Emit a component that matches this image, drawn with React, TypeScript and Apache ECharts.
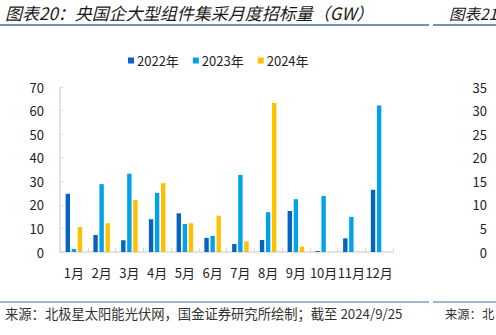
import React, { useEffect, useRef } from "react";
import * as echarts from "echarts";

const categories = ["1月", "2月", "3月", "4月", "5月", "6月", "7月", "8月", "9月", "10月", "11月", "12月"];
const seriesNames = ["2022年", "2023年", "2024年"];
const values2022 = [24.7, 7.2, 5.0, 13.9, 16.4, 6.0, 3.4, 5.1, 17.4, 0.4, 5.8, 26.4];
const values2023 = [1.3, 28.8, 33.2, 25.1, 11.9, 6.8, 32.7, 16.9, 22.4, 23.8, 14.9, 62.1];
const values2024 = [10.6, 12.2, 22.0, 29.2, 12.2, 15.4, 4.5, 63.2, 2.3, null, null, null];
const colors = ["#0563C1", "#00A2E8", "#FFC000"];

const titleText = "图表20：央国企大型组件集采月度招标量（GW）";
const rightTitleText = "图表21";
const sourceText = "来源：北极星太阳能光伏网，国金证券研究所绘制；截至 2024/9/25";
const rightSourceText = "来源：北";

const FONT = "'Noto Sans CJK SC', 'Noto Sans', sans-serif";

export default function App() {
  const ref = useRef<HTMLDivElement>(null);
  useEffect(() => {
    if (!ref.current) return;
    const chart = echarts.init(ref.current, null, { renderer: "svg" });
    const lineColor = "#3C7194";
    chart.setOption({
      animation: false,
      backgroundColor: "#ffffff",
      textStyle: { fontFamily: FONT },
      legend: {
        data: seriesNames,
        left: 123,
        top: 49,
        itemWidth: 6,
        itemHeight: 6,
        itemGap: 14,
        icon: "rect",
        textStyle: { fontSize: 13, color: "#222", fontFamily: FONT, padding: [0, 0, 0, -2] },
      },
      grid: { left: 60, right: 103, top: 87, bottom: 83 },
      xAxis: {
        type: "category",
        data: categories,
        axisLine: { lineStyle: { color: "#D9D9D9", width: 1.5 } },
        axisTick: { show: true, inside: true, length: 4, lineStyle: { color: "#D9D9D9" } },
        axisLabel: { color: "#222", fontSize: 13, margin: 14, interval: 0, fontFamily: FONT },
      },
      yAxis: [
        {
          type: "value",
          min: 0,
          max: 70,
          interval: 10,
          splitLine: { show: false },
          axisLine: { show: true, lineStyle: { color: "#D9D9D9", width: 1.5 } },
          axisTick: { show: true, inside: true, length: 3, lineStyle: { color: "#D9D9D9" } },
          axisLabel: { color: "#222", fontSize: 13, margin: 16, fontFamily: FONT },
        },
        {
          type: "value",
          min: 0,
          max: 35,
          interval: 5,
          position: "right",
          offset: 87,
          splitLine: { show: false },
          axisLine: { show: false },
          axisTick: { show: false },
          axisLabel: { color: "#222", fontSize: 13, margin: 7, align: "right", fontFamily: FONT },
        },
      ],
      series: [
        { name: seriesNames[0], type: "bar", data: values2022, barWidth: 4.4, barGap: "38%", itemStyle: { color: colors[0] } },
        { name: seriesNames[1], type: "bar", data: values2023, barWidth: 4.4, barGap: "38%", itemStyle: { color: colors[1] } },
        { name: seriesNames[2], type: "bar", data: values2024, barWidth: 4.4, barGap: "38%", itemStyle: { color: colors[2] } },
      ],
      graphic: [
        {
          type: "text",
          left: 5,
          top: 4,
          style: { text: titleText, font: `italic 17px ${FONT}`, fill: "#1a1a1a" },
        },
        {
          type: "text",
          left: 449,
          top: 5,
          style: { text: rightTitleText, font: `italic 15.5px ${FONT}`, fill: "#1a1a1a" },
        },
        { type: "line", shape: { x1: 0, y1: 25, x2: 429, y2: 25 }, style: { stroke: lineColor, lineWidth: 1.5 } },
        { type: "line", shape: { x1: 433, y1: 25, x2: 496, y2: 25 }, style: { stroke: lineColor, lineWidth: 1.5 } },
        { type: "line", shape: { x1: 0, y1: 302, x2: 429, y2: 302 }, style: { stroke: lineColor, lineWidth: 1 } },
        { type: "line", shape: { x1: 433, y1: 302, x2: 496, y2: 302 }, style: { stroke: lineColor, lineWidth: 1 } },
        {
          type: "text",
          left: 5,
          top: 307,
          style: { text: sourceText, font: `13.3px ${FONT}`, fill: "#333" },
        },
        {
          type: "text",
          left: 445,
          top: 308,
          style: { text: rightSourceText, font: `12.3px ${FONT}`, fill: "#333" },
        },
      ],
    });
    return () => chart.dispose();
  }, []);
  return <div ref={ref} style={{ width: 496, height: 335, position: "fixed", left: 0, top: 0 }} />;
}
